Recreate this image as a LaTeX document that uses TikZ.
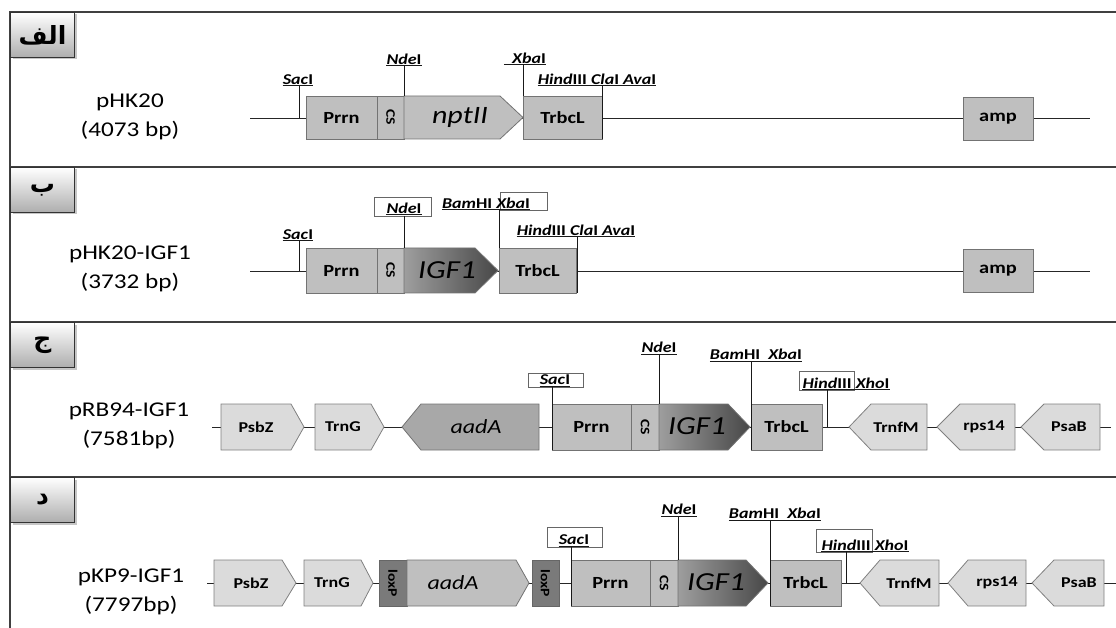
\documentclass[tikz,border=0pt]{standalone}
\usepackage{fontspec}
\setmainfont{Carlito}[FakeStretch=1.2]
\newfontfamily\arabicfont[Script=Arabic]{DejaVu Sans}
\TeXXeTstate=1
\usetikzlibrary{shadows}

\begin{document}
\begin{tikzpicture}
  [x=1pt,y=-1pt,
    panel/.style={draw=black!75,line width=1.6pt},
    tab/.style={draw=black!80,line width=1pt,top color=white,bottom color=black!32,
      minimum width=64,minimum height=45,anchor=north west,
      drop shadow={opacity=.45,shadow xshift=2pt,shadow yshift=-2pt},
      font=\arabicfont\bfseries\fontsize{25}{25}\selectfont},
    nametxt/.style={font=\fontsize{21}{29}\selectfont,align=center},
    bb/.style={draw=black!85,line width=.9pt},
    site/.style={draw=black!90,line width=1pt},
    sitebox/.style={draw=black!60,fill=white,line width=.8pt},
    enz/.style={font=\bfseries\fontsize{15}{15}\selectfont,inner sep=0pt,anchor=base},
    gmid/.style={draw=black!55,line width=.8pt,fill=black!25},
    glite/.style={draw=black!50,line width=.8pt,fill=black!14},
    gdark/.style={draw=black!55,line width=.8pt,fill=black!34},
    gloxp/.style={draw=black!60,line width=.8pt,fill=black!52},
    gigf/.style={draw=black!55,line width=.8pt,left color=black!38,right color=black!72},
    gtxt/.style={font=\bfseries\fontsize{17}{17}\selectfont},
    stxt/.style={font=\bfseries\fontsize{15}{15}\selectfont},
    vtxt/.style={font=\bfseries\fontsize{13}{13}\selectfont,rotate=-90},
    itxt/.style={font=\itshape\fontsize{#1}{#1}\selectfont},
  ]
  \useasboundingbox (0,0) rectangle (1116,628);

  % frame and panel tabs
  \draw[panel] (1116,12) -- (10,12) -- (10,628);
  \draw[panel] (10,167) -- (1116,167);
  \draw[panel] (10,322) -- (1116,322);
  \draw[panel] (10,477) -- (1116,477);
  \node[tab] (tabA) at (10,12) {\beginR الف\endR};
  \node[tab] (tabB) at (10,167) {\beginR ب\endR};
  \node[tab] (tabC) at (10,322) {\beginR ج\endR};
  \node[tab] (tabD) at (10,477) {\beginR د\endR};

  % ---- pHK20
  \node[nametxt] (nameA) at (130,117) {pHK20\\(4073 bp)};
  \coordinate (a0) at (250,118);
  \coordinate (a1) at (1090,118);
  \draw[bb] (a0) -- (a1);
  \draw[gmid] (306,96) rectangle (377,139);
  \draw[gmid] (377,96) rectangle (404,139);
  \draw[gmid] (404,96) -- (500,96) -- (523,117.5) -- (500,139) -- (404,139) -- cycle;
  \draw[gmid] (523,96) rectangle (602,139);
  \draw[gmid] (963,97) rectangle (1033,140);
  \node[gtxt] (aprrn) at (341.5,117.5) {Prrn};
  \node[vtxt] (acs) at (390.5,117.5) {CS};
  \node[itxt=25] (anpt) at (460,117) {nptII};
  \node[gtxt] (atrbc) at (562.5,117.5) {TrbcL};
  \node[gtxt] (aamp) at (998,118.5) {amp};
  \node[enz] (asac) at (298,84.5) {\textit{Sac}I};
  \node[enz] (ande) at (404,64.5) {\textit{Nde}I};
  \node[enz] (axba) at (529,63.5) {\textit{Xba}I};
  \node[enz] (ahind) at (597,84.5) {\textit{Hind}III \textit{Cla}I \textit{Ava}I};
  \draw[site] ([yshift=-1.5pt]asac.base west) -- ([yshift=-1.5pt]asac.base east);
  \draw[site] ([yshift=-1.5pt]ande.base west) -- ([yshift=-1.5pt]ande.base east);
  \draw[site] ([xshift=-8pt,yshift=-1.5pt]axba.base west) -- ([yshift=-1.5pt]axba.base east);
  \draw[site] ([yshift=-1.5pt]ahind.base west) -- ([yshift=-1.5pt]ahind.base east);
  \draw[site] (299,86) -- (299,118);
  \draw[site] (404,66) -- (404,96);
  \draw[site] (523,65) -- (523,96);
  \draw[site] (602,86) -- (602,139);

  % ---- pHK20-IGF1
  \node[nametxt] (nameB) at (130,269) {pHK20-IGF1\\(3732 bp)};
  \coordinate (b0) at (250,271);
  \coordinate (b1) at (1090,271);
  \draw[bb] (b0) -- (b1);
  \draw[gmid] (306,248) rectangle (377,293);
  \draw[gmid] (377,248) rectangle (404,293);
  \draw[gigf] (404,248) -- (475,248) -- (498,270.5) -- (475,293) -- (404,293) -- cycle;
  \draw[gmid] (499,248) rectangle (576,293);
  \draw[gmid] (963,249) rectangle (1033,292);
  \node[gtxt] (bprrn) at (341.5,270.5) {Prrn};
  \node[vtxt] (bcs) at (390.5,270.5) {CS};
  \node[itxt=26] (bigf) at (447,270) {IGF1};
  \node[gtxt] (btrbc) at (537.5,270.5) {TrbcL};
  \node[gtxt] (bamp) at (998,270.5) {amp};
  \draw[sitebox] (374,197) rectangle (431,216);
  \draw[sitebox] (500,192) rectangle (547,210);
  \node[enz] (bsac) at (298,239.5) {\textit{Sac}I};
  \node[enz] (bnde) at (404,213.5) {\textit{Nde}I};
  \node[enz] (bbam) at (486,208.5) {\textit{Bam}HI \textit{Xba}I};
  \node[enz] (bhind) at (576,235.5) {\textit{Hind}III \textit{Cla}I \textit{Ava}I};
  \draw[site] ([yshift=-1.5pt]bsac.base west) -- ([yshift=-1.5pt]bsac.base east);
  \draw[site] ([yshift=-1.5pt]bnde.base west) -- ([yshift=-1.5pt]bnde.base east);
  \draw[site] ([yshift=-1.5pt]bbam.base west) -- ([yshift=-1.5pt]bbam.base east);
  \draw[site] ([yshift=-1.5pt]bhind.base west) -- ([yshift=-1.5pt]bhind.base east);
  \draw[site] (299,241) -- (299,271);
  \draw[site] (404,216) -- (404,248);
  \draw[site] (499,210) -- (499,248);
  \draw[site] (577,237) -- (577,293);

  % ---- pRB94-IGF1
  \node[nametxt] (nameC) at (129,426) {pRB94-IGF1\\(7581bp)};
  \coordinate (c0) at (212,427);
  \coordinate (c1) at (1111,427);
  \draw[bb] (c0) -- (c1);
  \draw[glite] (221,404) -- (291,404) -- (304,427) -- (291,450) -- (221,450) -- cycle;
  \draw[glite] (315,404) -- (371,404) -- (384,427) -- (371,450) -- (315,450) -- cycle;
  \draw[gdark] (402,427) -- (421,404) -- (539,404) -- (539,450) -- (421,450) -- cycle;
  \draw[gmid] (552,404) rectangle (631,450);
  \draw[gmid] (631,404) rectangle (659,450);
  \draw[gigf] (659,404) -- (728,404) -- (750,427) -- (728,450) -- (659,450) -- cycle;
  \draw[gmid] (751,404) rectangle (822,450);
  \draw[glite] (849,427) -- (871,404) -- (927,404) -- (927,450) -- (871,450) -- cycle;
  \draw[glite] (937,427) -- (960,404) -- (1015,404) -- (1015,450) -- (960,450) -- cycle;
  \draw[glite] (1021,427) -- (1044,404) -- (1100,404) -- (1100,450) -- (1044,450) -- cycle;
  \node[stxt] (cpsbz) at (256,427) {PsbZ};
  \node[stxt] (ctrng) at (343,427) {TrnG};
  \node[itxt=20] (caad) at (476,427) {aadA};
  \node[gtxt] (cprrn) at (591.5,427) {Prrn};
  \node[vtxt] (ccs) at (645,427) {CS};
  \node[itxt=26] (cigf) at (697,426.5) {IGF1};
  \node[gtxt] (ctrbc) at (786.5,427) {TrbcL};
  \node[stxt] (ctrnf) at (896,427) {TrnfM};
  \node[stxt] (crps) at (984,427) {rps14};
  \node[stxt] (cpsa) at (1069,427) {PsaB};
  \draw[sitebox] (528,373) rectangle (583,387);
  \draw[sitebox] (799,371) rectangle (854,390);
  \node[enz] (csac) at (555,384.5) {\textit{Sac}I};
  \node[enz] (cnde) at (659,352.5) {\textit{Nde}I};
  \node[enz] (cbam) at (756,359.5) {\textit{Bam}HI\ \ \textit{Xba}I};
  \node[enz] (chind) at (846,388) {\textit{Hind}III \textit{Xho}I};
  \draw[site] ([yshift=-1.5pt]csac.base west) -- ([yshift=-1.5pt]csac.base east);
  \draw[site] ([yshift=-1.5pt]cnde.base west) -- ([yshift=-1.5pt]cnde.base east);
  \draw[site] ([yshift=-1.5pt]cbam.base west) -- ([yshift=-1.5pt]cbam.base east);
  \draw[site] ([yshift=-1.5pt]chind.base west) -- ([yshift=-1.5pt]chind.base east);
  \draw[site] (552,387) -- (552,450);
  \draw[site] (659,354) -- (659,404);
  \draw[site] (751,361) -- (751,450);
  \draw[site] (827,389.5) -- (827,427);

  % ---- pKP9-IGF1
  \node[nametxt] (nameD) at (131,592) {pKP9-IGF1\\(7797bp)};
  \coordinate (d0) at (207,583);
  \coordinate (d1) at (1116,583);
  \draw[bb] (d0) -- (d1);
  \draw[glite] (214,560) -- (282,560) -- (296,583) -- (282,606) -- (214,606) -- cycle;
  \draw[glite] (304,560) -- (361,560) -- (373,583) -- (361,606) -- (304,606) -- cycle;
  \draw[gloxp] (379,560) rectangle (407,606);
  \draw[gmid] (407,560) -- (516,560) -- (529,583) -- (516,606) -- (407,606) -- cycle;
  \draw[gloxp] (532,560) rectangle (559,606);
  \draw[gmid] (571,560) rectangle (650,606);
  \draw[gmid] (650,560) rectangle (678,606);
  \draw[gigf] (678,560) -- (746,560) -- (768,583) -- (746,606) -- (678,606) -- cycle;
  \draw[gmid] (770,560) rectangle (841,606);
  \draw[glite] (860,583) -- (880,560) -- (939,560) -- (939,606) -- (880,606) -- cycle;
  \draw[glite] (948,583) -- (968,560) -- (1026,560) -- (1026,606) -- (968,606) -- cycle;
  \draw[glite] (1032,583) -- (1054,560) -- (1104,560) -- (1104,606) -- (1054,606) -- cycle;
  \node[stxt] (dpsbz) at (251,583) {PsbZ};
  \node[stxt] (dtrng) at (332,583) {TrnG};
  \node[vtxt] (dlox1) at (393,583) {loxP};
  \node[itxt=20] (daad) at (453,583) {aadA};
  \node[vtxt] (dlox2) at (545.5,583) {loxP};
  \node[gtxt] (dprrn) at (610.5,583) {Prrn};
  \node[vtxt] (dcs) at (664,583) {CS};
  \node[itxt=26] (digf) at (716,582.5) {IGF1};
  \node[gtxt] (dtrbc) at (805.5,583) {TrbcL};
  \node[stxt] (dtrnf) at (909,583) {TrnfM};
  \node[stxt] (drps) at (997,583) {rps14};
  \node[stxt] (dpsa) at (1079,583) {PsaB};
  \draw[sitebox] (547,527) rectangle (602,547);
  \draw[sitebox] (816,529) rectangle (872,552);
  \node[enz] (dsac) at (574,544.5) {\textit{Sac}I};
  \node[enz] (dnde) at (679,514.5) {\textit{Nde}I};
  \node[enz] (dbam) at (775,518.5) {\textit{Bam}HI\ \ \textit{Xba}I};
  \node[enz] (dhind) at (865,550) {\textit{Hind}III \textit{Xho}I};
  \draw[site] ([yshift=-1.5pt]dsac.base west) -- ([yshift=-1.5pt]dsac.base east);
  \draw[site] ([yshift=-1.5pt]dnde.base west) -- ([yshift=-1.5pt]dnde.base east);
  \draw[site] ([yshift=-1.5pt]dbam.base west) -- ([yshift=-1.5pt]dbam.base east);
  \draw[site] ([yshift=-1.5pt]dhind.base west) -- ([yshift=-1.5pt]dhind.base east);
  \draw[site] (571,547) -- (571,606);
  \draw[site] (678,516) -- (678,560);
  \draw[site] (770,520) -- (770,606);
  \draw[site] (846,551.5) -- (846,583);
\end{tikzpicture}
\end{document}
